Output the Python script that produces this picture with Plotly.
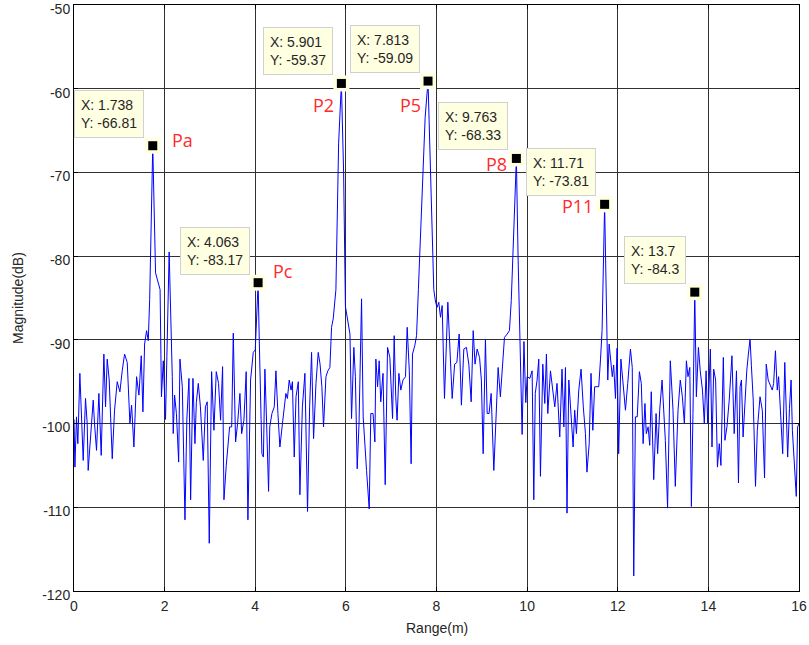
import plotly.graph_objects as go

# Spectrum trace vertices (Range in m, Magnitude in dB)
range_m = [
    0.0, 0.02, 0.055, 0.085, 0.129, 0.166, 0.203, 0.254, 0.291, 0.313, 0.365, 0.424, 0.453, 0.497, 0.549, 0.600,
    0.659, 0.696, 0.733, 0.777, 0.844, 0.895, 0.954, 1.013, 1.064, 1.116, 1.175, 1.234, 1.271, 1.322, 1.381, 1.433,
    1.484, 1.521, 1.558, 1.602, 1.639, 1.67, 1.738, 1.80, 1.90, 1.93, 1.97, 2.02, 2.05, 2.10,
    2.169, 2.19, 2.22, 2.26, 2.31, 2.338, 2.39, 2.449, 2.49, 2.537, 2.574, 2.625, 2.669, 2.70, 2.743, 2.79,
    2.853, 2.90, 2.94, 2.985, 3.037, 3.088, 3.14, 3.19, 3.235, 3.279, 3.309, 3.36, 3.434, 3.48, 3.515, 3.566,
    3.61, 3.662, 3.70, 3.75, 3.80, 3.838, 3.897, 3.956, 4.0, 4.063,
    4.088, 4.12, 4.147, 4.18, 4.213, 4.25, 4.294, 4.32, 4.368, 4.42, 4.456, 4.50, 4.544, 4.60, 4.676, 4.71,
    4.75, 4.79, 4.82, 4.86, 4.90, 4.95, 4.985, 5.04, 5.096, 5.154, 5.20, 5.243, 5.287, 5.34, 5.39, 5.43,
    5.47, 5.507, 5.56, 5.603, 5.647, 5.684, 5.72, 5.78, 5.84, 5.901, 5.95, 5.99, 6.05, 6.09,
    6.125, 6.176, 6.21, 6.25, 6.29, 6.346, 6.382, 6.42, 6.456, 6.515, 6.55, 6.60, 6.64, 6.662, 6.70, 6.735,
    6.77, 6.82, 6.868, 6.92, 6.97, 7.03, 7.066, 7.10, 7.13, 7.17, 7.213, 7.26, 7.316, 7.353, 7.40, 7.44,
    7.47, 7.52, 7.56, 7.60, 7.70, 7.75, 7.813, 7.86, 7.90, 7.94, 7.98, 8.015, 8.05, 8.088, 8.125,
    8.176, 8.25, 8.30, 8.346, 8.40, 8.45, 8.50, 8.55, 8.603, 8.66, 8.713, 8.765, 8.81, 8.85, 8.897, 8.95,
    8.99, 9.03, 9.08, 9.118, 9.16, 9.206, 9.265, 9.31, 9.36, 9.41, 9.45, 9.50, 9.56, 9.61, 9.65, 9.763,
    9.80, 9.84, 9.89, 9.93, 9.97, 10.0, 10.06, 10.11, 10.147, 10.18, 10.22, 10.257, 10.294, 10.346, 10.39, 10.426,
    10.456, 10.515, 10.566, 10.61, 10.66, 10.72, 10.77, 10.81, 10.846, 10.88, 10.92, 10.97, 11.015, 11.05, 11.088, 11.14,
    11.19, 11.24, 11.287, 11.32, 11.37, 11.41, 11.45, 11.49, 11.53, 11.58, 11.62, 11.654, 11.71, 11.75, 11.78, 11.81,
    11.85, 11.88, 11.91, 11.95, 11.985, 12.02, 12.07, 12.12, 12.17, 12.22, 12.28, 12.32, 12.353, 12.39, 12.43, 12.478,
    12.52, 12.56, 12.60, 12.63, 12.67, 12.706, 12.74, 12.794, 12.846, 12.88, 12.926, 12.978, 13.015, 13.05, 13.10, 13.16,
    13.22, 13.27, 13.33, 13.38, 13.426, 13.47, 13.515, 13.55, 13.59, 13.625, 13.66, 13.70, 13.735, 13.78, 13.82, 13.87,
    13.91, 13.95, 13.985, 14.044, 14.08, 14.117, 14.16, 14.20, 14.24, 14.277, 14.33, 14.365, 14.41, 14.46, 14.52, 14.57,
    14.62, 14.664, 14.70, 14.73, 14.766, 14.80, 14.847, 14.883, 14.92, 14.95, 14.99, 15.04, 15.08, 15.14, 15.19, 15.24,
    15.277, 15.32, 15.37, 15.41, 15.44, 15.48, 15.52, 15.55, 15.59, 15.64, 15.686, 15.72, 15.75, 15.79, 15.825, 15.854,
    15.90, 15.94, 15.97, 16.0,
]
magnitude_db = [
    -99.5, -105.2, -99.2, -102.4, -94.0, -100.0, -104.4, -97.0, -100.0, -105.6, -101.6, -97.2, -100.0, -103.2, -96.4, -103.8,
    -91.7, -98.0, -92.3, -94.8, -104.2, -98.4, -95.0, -96.2, -93.7, -91.7, -92.7, -100.0, -97.8, -102.8, -94.4, -96.6,
    -91.9, -98.6, -90.5, -88.9, -90.1, -85.2, -66.81, -82.0, -84.0, -96.8, -92.5, -99.5, -92.0, -79.5,
    -94.4, -101.2, -96.6, -98.8, -104.6, -92.3, -95.6, -111.5, -99.5, -94.6, -109.1, -94.6, -102.4, -97.5, -95.2, -98.0,
    -104.4, -98.0, -97.4, -114.3, -93.8, -100.8, -93.8, -95.2, -99.6, -93.2, -109.1, -105.0, -100.4, -100.4, -89.2, -102.2,
    -100.0, -96.4, -101.2, -99.6, -93.8, -111.5, -94.8, -91.5, -91.2, -83.17,
    -89.9, -97.0, -103.6, -104.0, -93.5, -99.8, -108.1, -100.4, -98.8, -98.0, -93.7, -98.8, -102.8, -100.0, -96.4, -97.0,
    -94.8, -96.0, -95.0, -104.0, -96.8, -95.0, -108.5, -98.0, -94.0, -110.5, -98.0, -91.5, -101.8, -95.2, -91.5, -92.9,
    -95.6, -100.4, -94.4, -93.7, -93.3, -88.5, -87.5, -84.0, -66.5, -59.37, -70.0, -86.0, -88.1, -89.3,
    -99.4, -90.9, -94.4, -105.4, -100.0, -85.1, -99.2, -102.0, -105.6, -110.2, -98.8, -98.8, -102.2, -92.3, -95.6, -92.5,
    -97.4, -94.0, -107.3, -90.9, -92.1, -99.4, -89.5, -96.8, -99.6, -94.0, -96.0, -94.8, -94.4, -88.5, -93.7, -104.8,
    -91.7, -90.7, -89.5, -84.0, -71.3, -63.4, -59.09, -69.4, -78.0, -84.0, -85.5, -86.1, -85.5, -87.3, -85.9,
    -97.0, -85.5, -92.0, -97.0, -92.9, -92.7, -89.3, -97.8, -91.1, -90.9, -92.9, -97.4, -88.9, -92.9, -91.1, -92.1,
    -94.8, -103.6, -89.9, -98.8, -98.8, -96.4, -105.6, -100.0, -93.3, -96.8, -94.0, -89.7, -89.3, -88.9, -85.3, -68.33,
    -80.0, -89.3, -101.3, -90.2, -97.5, -94.4, -94.6, -93.7, -109.1, -96.4, -94.8, -92.3, -106.3, -92.9, -97.6, -91.7,
    -98.8, -93.7, -96.4, -98.0, -95.2, -101.6, -93.5, -100.4, -93.3, -110.7, -94.8, -99.6, -102.8, -98.4, -101.2, -96.0,
    -93.5, -98.0, -101.2, -105.8, -102.4, -94.0, -100.8, -95.6, -95.6, -95.6, -92.3, -88.9, -73.81, -89.1, -94.8, -90.5,
    -93.3, -94.4, -93.0, -97.0, -91.0, -103.6, -92.3, -95.2, -98.4, -95.2, -91.1, -93.3, -118.2, -99.2, -99.2, -93.8,
    -95.2, -102.4, -97.6, -101.2, -100.4, -102.6, -96.2, -106.7, -98.8, -103.6, -98.4, -94.8, -98.8, -102.0, -110.1, -92.5,
    -98.4, -107.5, -98.4, -94.8, -96.8, -100.0, -92.5, -94.4, -93.3, -109.9, -98.8, -84.3, -96.8, -90.9, -93.7, -96.0,
    -100.0, -93.7, -100.0, -91.1, -102.8, -93.5, -94.8, -105.2, -102.4, -105.0, -92.1, -102.0, -100.4, -97.2, -91.9, -101.2,
    -93.7, -107.1, -95.6, -94.8, -101.6, -97.6, -93.7, -91.7, -89.9, -93.1, -97.2, -107.5, -100.8, -96.8, -98.4, -106.5,
    -92.9, -94.8, -95.6, -96.0, -95.2, -91.3, -96.0, -94.4, -98.4, -103.6, -92.7, -100.0, -104.0, -98.2, -94.8, -100.8,
    -105.6, -108.7, -100.4, -100.0,
]

# Axis ticks
x_ticks = [0, 2, 4, 6, 8, 10, 12, 14, 16]
x_tick_labels = ["0", "2", "4", "6", "8", "10", "12", "14", "16"]
y_ticks = [-120, -110, -100, -90, -80, -70, -60, -50]
y_tick_labels = ["-120", "-110", "-100", "-90", "-80", "-70", "-60", "-50"]

# Data tips
tip_x = [1.738, 4.063, 5.901, 7.813, 9.763, 11.71, 13.7]
tip_y = [-66.81, -83.17, -59.37, -59.09, -68.33, -73.81, -84.3]
tip_text = ["1.738", "4.063", "5.901", "7.813", "9.763", "11.71", "13.7"]
tip_ytext = ["-66.81", "-83.17", "-59.37", "-59.09", "-68.33", "-73.81", "-84.3"]

# Red peak labels: (label, index into tips, anchor side, xshift, yshift)
peak_labels = ["Pa", "Pc", "P2", "P5", "P8", "P11"]
peak_tip_index = [0, 1, 2, 3, 4, 5]
peak_side = ["left", "left", "right", "right", "right", "right"]
peak_dx = [17, 13, -5, -5, -7, -10]
peak_dy = [6, 12, -22, -24, -6, -2]

FONT = "Liberation Sans, Arial, sans-serif"

fig = go.Figure()
fig.add_trace(go.Scatter(x=range_m, y=magnitude_db, mode="lines",
                         line=dict(color="#0000FF", width=1), hoverinfo="skip", cliponaxis=True))
fig.add_trace(go.Scatter(x=tip_x, y=tip_y, mode="markers",
                         marker=dict(symbol="square", size=16, color="#FFFFE1", line=dict(width=0)),
                         hoverinfo="skip"))
fig.add_trace(go.Scatter(x=tip_x, y=tip_y, mode="markers",
                         marker=dict(symbol="square", size=9, color="#000000", line=dict(width=0)),
                         hoverinfo="skip"))

annotations = []
for xv, yv, xs, ys in zip(tip_x, tip_y, tip_text, tip_ytext):
    annotations.append(dict(
        x=xv, y=yv, xref="x", yref="y", showarrow=False,
        text=f"X: {xs}<br>Y: {ys}", align="left",
        xanchor="right", yanchor="bottom", xshift=-8.5, yshift=8,
        font=dict(family=FONT, size=14, color="#262626"),
        bgcolor="#FFFFE1", bordercolor="#D0D0D0", borderwidth=1, borderpad=6,
    ))

for lab, idx, side, dx, dy in zip(peak_labels, peak_tip_index, peak_side, peak_dx, peak_dy):
    annotations.append(dict(
        x=tip_x[idx], y=tip_y[idx], xref="x", yref="y", showarrow=False,
        text=lab, xanchor=side, yanchor="middle", xshift=dx, yshift=dy,
        font=dict(family="Open Sans, sans-serif", size=18, color="#FF2A2A"),
    ))

annotations.append(dict(x=0.5, y=0, xref="paper", yref="paper", showarrow=False,
                        text="Range(m)", xanchor="center", yanchor="middle", yshift=-37,
                        font=dict(family=FONT, size=14, color="#262626")))
annotations.append(dict(x=0, y=0.5, xref="paper", yref="paper", showarrow=False,
                        text="Magnitude(dB)", textangle=-90, xanchor="center", yanchor="middle",
                        xshift=-56, font=dict(family=FONT, size=14, color="#262626")))

fig.update_layout(
    width=809, height=645,
    margin=dict(l=74, r=10, t=5, b=54, autoexpand=False),
    paper_bgcolor="white", plot_bgcolor="white",
    showlegend=False, hovermode=False,
    annotations=annotations,
    xaxis=dict(range=[0, 16], tickmode="array", tickvals=x_ticks, ticktext=x_tick_labels,
               automargin=False, ticklabelstandoff=2,
               showgrid=True, gridcolor="#303030", gridwidth=1, ticklabeloverflow="allow",
               zeroline=False, showline=True, linecolor="#000000", linewidth=1, mirror="ticks",
               ticks="inside", ticklen=4, tickcolor="#000000",
               tickfont=dict(family=FONT, size=14, color="#262626")),
    yaxis=dict(range=[-120, -50], tickmode="array", tickvals=y_ticks, ticktext=y_tick_labels,
               automargin=False, ticklabelshift=4,
               showgrid=True, gridcolor="#303030", gridwidth=1, ticklabeloverflow="allow",
               zeroline=False, showline=True, linecolor="#000000", linewidth=1, mirror="ticks",
               ticks="inside", ticklen=4, tickcolor="#000000",
               tickfont=dict(family=FONT, size=14, color="#262626")),
)

fig.write_html("out.html", config={"displayModeBar": False})
